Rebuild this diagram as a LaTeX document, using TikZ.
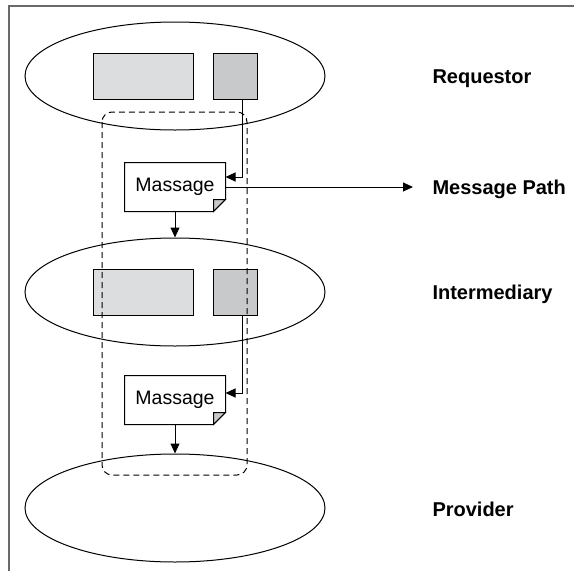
\documentclass[tikz,border=0pt]{standalone}
\usepackage{fontspec}
\setmainfont{Liberation Sans}
\usepackage{tikz}
\usetikzlibrary{shapes.geometric}
\usetikzlibrary{arrows.meta}
\definecolor{lightbox}{RGB}{220,221,223}
\definecolor{darkbox}{RGB}{200,201,203}
\definecolor{framegray}{RGB}{105,105,105}
\newcommand{\widthhost}{300pt}
\newcommand{\heighthost}{108pt}
\newcommand{\fold}{12pt}
\newcommand{\dogear}[1]{%
    \draw[fill=darkbox] ([yshift=\fold]#1.south east) -- ([xshift=-\fold, yshift=\fold]#1.south east)
        -- ([xshift=-\fold]#1.south east) -- cycle;
    \draw (#1.south west) -- ([xshift=-\fold]#1.south east) -- ([yshift=\fold]#1.south east)
        -- (#1.north east) -- (#1.north west) -- cycle;
}
\tikzset{
    host/.style={draw, ellipse, minimum width=\widthhost, minimum height=\heighthost, inner sep=0pt},
    part/.style={draw, rectangle, minimum height=46pt, inner sep=0pt},
    wide/.style={part, fill=lightbox, minimum width=100pt},
    narrow/.style={part, fill=darkbox, minimum width=44pt},
    msg/.style={rectangle, fill=white, minimum width=100pt, minimum height=48pt, inner sep=0pt,
        font=\fontsize{19.5}{22}\selectfont},
    role/.style={anchor=base west, inner sep=0pt, font=\fontsize{20}{24}\selectfont\bfseries},
    flow/.style={-{Triangle[length=10pt, width=9pt]}},
    hop/.style={dash pattern=on 6pt off 4pt, rounded corners=10pt}
}
\begin{document}
\begin{tikzpicture}[x=1pt, y=-1pt, line width=1pt]
    \useasboundingbox (0,0) rectangle (574,571);
    \draw[framegray, line width=1.5pt] (9,571) |- (574,6);

    % hosts
    \path
        node[host] (req-host) at (175,76) {}
        node[wide] (req-wide) at (143,76) {}
        node[narrow] (req-narrow) at (235,76) {};
    \path
        node[host] (inter-host) at (175,292) {}
        node[wide] (inter-wide) at (143,292) {}
        node[narrow] (inter-narrow) at (235,292) {};
    \path
        node[host] (prov-host) at (175,508) {};

    \draw[hop] (102,112) rectangle (247,475);

    % messages
    \node[msg] (msg-a) at (175,187) {Massage};
    \dogear{msg-a}
    \node[msg] (msg-b) at (175,400) {Massage};
    \dogear{msg-b}

    \node[role] (req-label) at (432,83) {Requestor};
    \node[role] (path-label) at (432,194) {Message Path};
    \node[role] (inter-label) at (432,299) {Intermediary};
    \node[role] (prov-label) at (432,516) {Provider};

    \draw[flow] ([xshift=7pt]req-narrow.south) |- ([yshift=10pt]msg-a.east);
    \draw[flow, shorten >=19pt] (msg-a.east) -- (msg-a.east -| path-label.west);
    \draw[flow] (msg-a.south) -- (inter-host.north);
    \draw[flow] ([xshift=7pt]inter-narrow.south) |- ([yshift=7pt]msg-b.east);
    \draw[flow] (msg-b.south) -- (prov-host.north);
\end{tikzpicture}
\end{document}
